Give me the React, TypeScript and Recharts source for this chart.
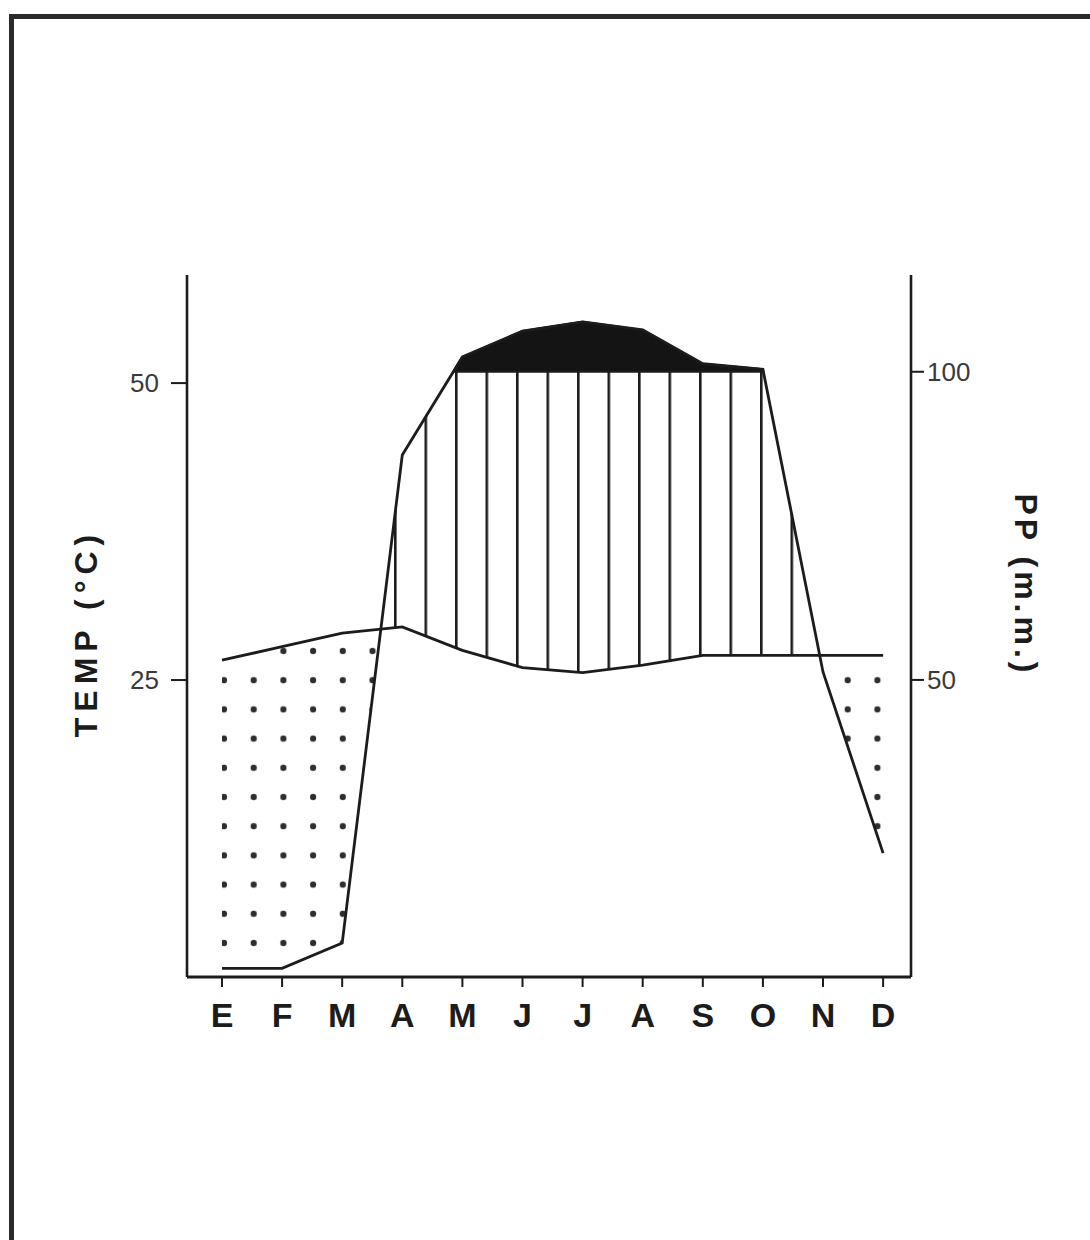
import React from "react";
import { Area, ComposedChart, Line, XAxis, YAxis } from "recharts";

const months = ["E", "F", "M", "A", "M", "J", "J", "A", "S", "O", "N", "D"];
// mean monthly temperature, °C
const temperature = [26.6, 27.7, 28.8, 29.3, 27.4, 26.0, 25.6, 26.2, 27.0, 27.0, 27.0, 27.0];
// precipitation as drawn on the mm scale (above 100 the scale is compressed)
const precipitation = [3.2, 3.2, 7.3, 86.5, 102.4, 106.6, 108.1, 106.8, 101.3, 100.4, 51.3, 21.9];
// where the rain curve meets the temperature curve (month position, mm scale)
const rainTempMeets = [
  { x: 3.643, v: 58.24 },
  { x: 10.945, v: 54.0 }
];
// where the rain curve crosses the 100 mm line
const rainHundredMeets = [4.849, 10.008];
const tempTicks = [25, 50];
const rainTicks = [50, 100];
const monthTicks = months.map((_, i) => i + 1);

const ink = "#1c1c1c";
const font = "'Liberation Sans', Arial, Helvetica, sans-serif";

type Row = {
  x: number;
  t2?: number;
  p?: number;
  hatch?: [number, number] | null;
  dots?: [number, number] | null;
  wet?: [number, number] | null;
};

const monthRows: Row[] = months.map((_, i) => {
  const t2 = temperature[i] * 2;
  const p = precipitation[i];
  return {
    x: i + 1,
    t2,
    p,
    hatch: p >= t2 ? [t2, p] : null,
    dots: p <= t2 ? [p, t2] : null,
    wet: p > 100 ? [100, p] : null
  };
});

const table: Row[] = [
  ...monthRows,
  ...rainTempMeets.map((c) => ({ x: c.x, hatch: [c.v, c.v] as [number, number], dots: [c.v, c.v] as [number, number] })),
  ...rainHundredMeets.map((x) => ({ x, wet: [100, 100] as [number, number] }))
].sort((a, b) => a.x - b.x);

function TempTitle() {
  return (
    <text
      x={86}
      y={633}
      transform="rotate(-90 86 633)"
      textAnchor="middle"
      dominantBaseline="central"
      fontFamily={font}
      fontWeight={700}
      fontSize={32}
      fill={ink}
      style={{ letterSpacing: 6 }}
    >
      TEMP (°C)
    </text>
  );
}

function RainTitle() {
  return (
    <text
      x={1026}
      y={585}
      transform="rotate(90 1026 585)"
      textAnchor="middle"
      dominantBaseline="central"
      fontFamily={font}
      fontWeight={700}
      fontSize={32}
      fill={ink}
      style={{ letterSpacing: 4 }}
    >
      PP (m.m.)
    </text>
  );
}

export default function App() {
  return (
    <div style={{ position: "relative", width: 1090, height: 1240, background: "#fff", overflow: "hidden" }}>
      <style>{"body{margin:0;background:#fff}"}</style>
      <div
        style={{
          position: "absolute",
          left: 9,
          top: 14,
          width: 1100,
          height: 1240,
          borderTop: "5px solid #2a2a2a",
          borderLeft: "5px solid #2a2a2a"
        }}
      />
      <svg width={0} height={0} style={{ position: "absolute" }}>
        <defs>
          <pattern id="hatch" patternUnits="userSpaceOnUse" x={394} y={0} width={30.5} height={10}>
            <rect x={0} y={0} width={2.6} height={10} fill={ink} />
          </pattern>
          <pattern id="dots" patternUnits="userSpaceOnUse" x={224 - 14.85} y={651 - 14.6} width={29.7} height={29.2}>
            <circle cx={14.85} cy={14.6} r={3.1} fill="#2e2e2e" />
          </pattern>
        </defs>
      </svg>
      <div style={{ position: "absolute", left: 0, top: 0 }}>
        <ComposedChart
          width={1090}
          height={1240}
          data={table}
          margin={{ top: 275, right: 119, bottom: 233, left: 127 }}
          style={{ fontFamily: font }}
        >
          <XAxis
            dataKey="x"
            type="number"
            domain={[0.418, 12.464]}
            ticks={monthTicks}
            interval={0}
            allowDataOverflow
            height={30}
            tickSize={10}
            tickMargin={16}
            tickFormatter={(v: number) => months[v - 1] ?? ""}
            tick={{ fontSize: 34, fontWeight: 700, fill: ink, fontFamily: font }}
            tickLine={{ stroke: ink, strokeWidth: 2 }}
            axisLine={{ stroke: ink, strokeWidth: 2.8 }}
          />
          <YAxis
            yAxisId="left"
            orientation="left"
            type="number"
            domain={[0, 59.1]}
            ticks={tempTicks}
            allowDataOverflow
            width={60}
            tickSize={16}
            tickMargin={12}
            tick={{ fontSize: 26, fill: "#3a3a3a", fontFamily: font }}
            tickLine={{ stroke: ink, strokeWidth: 2 }}
            axisLine={{ stroke: ink, strokeWidth: 2.6 }}
            label={{ value: "TEMP (°C)", content: () => <TempTitle /> }}
          />
          <YAxis
            yAxisId="right"
            orientation="right"
            type="number"
            domain={[1.8, 115.7]}
            ticks={rainTicks}
            allowDataOverflow
            width={60}
            tickSize={13}
            tickMargin={3}
            tick={{ fontSize: 26, fill: "#3a3a3a", fontFamily: font }}
            tickLine={{ stroke: ink, strokeWidth: 2 }}
            axisLine={{ stroke: ink, strokeWidth: 2.6 }}
            label={{ value: "PP (m.m.)", content: () => <RainTitle /> }}
          />
          <Area
            yAxisId="right"
            dataKey="dots"
            type="linear"
            stroke="none"
            fill="url(#dots)"
            fillOpacity={1}
            connectNulls={false}
            isAnimationActive={false}
          />
          <Area
            yAxisId="right"
            dataKey="hatch"
            type="linear"
            stroke="none"
            fill="url(#hatch)"
            fillOpacity={1}
            connectNulls
            isAnimationActive={false}
          />
          <Area
            yAxisId="right"
            dataKey="wet"
            type="linear"
            stroke={ink}
            strokeWidth={2}
            fill="#141414"
            fillOpacity={1}
            connectNulls
            isAnimationActive={false}
          />
          <Line
            yAxisId="right"
            dataKey="t2"
            type="linear"
            stroke={ink}
            strokeWidth={2.8}
            dot={false}
            activeDot={false}
            connectNulls
            isAnimationActive={false}
          />
          <Line
            yAxisId="right"
            dataKey="p"
            type="linear"
            stroke={ink}
            strokeWidth={2.8}
            dot={false}
            activeDot={false}
            connectNulls
            isAnimationActive={false}
          />
        </ComposedChart>
      </div>
    </div>
  );
}
